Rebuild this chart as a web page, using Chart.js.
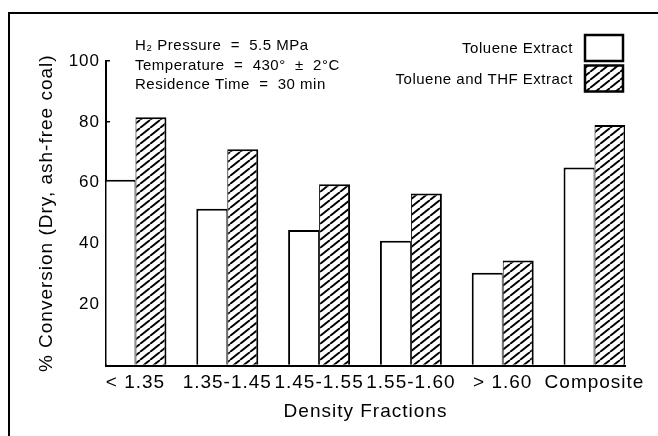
<!DOCTYPE html>
<html>
<head>
<meta charset="utf-8">
<script src="https://cdn.jsdelivr.net/npm/chart.js@4.4.1/dist/chart.umd.min.js"></script>
<style>
  body { margin: 0; background: #fff; }
  canvas { display: block; }
</style>
</head>
<body>
<canvas id="conversion-chart" width="658" height="436"></canvas>
<script>
const fractions = ['< 1.35', '1.35-1.45', '1.45-1.55', '1.55-1.60', '> 1.60', 'Composite'];
const tolueneExtract = [61, 51.5, 44.5, 41, 30.5, 65];
const tolueneThfExtract = [81.5, 71, 59.5, 56.5, 34.5, 79];
const yTicks = [0, 20, 40, 60, 80, 100];
const conditions = ['H\u2082 Pressure  =  5.5 MPa', 'Temperature  =  430\u00B0  \u00B1  2\u00B0C', 'Residence Time  =  30 min'];

const FONT = "'Liberation Sans', Arial, Helvetica, sans-serif";
const INK = '#000';

// diagonal hatch used for the THF bars
function makeHatch() {
    const tile = document.createElement('canvas');
    tile.width = 10;
    tile.height = 8;
    const c = tile.getContext('2d');
    c.fillStyle = '#fff';
    c.fillRect(0, 0, 10, 8);
    c.strokeStyle = INK;
    c.lineWidth = 1.9;
    c.beginPath();
    for (const dx of [-10, 0, 10]) {
        c.moveTo(dx, 8);
        c.lineTo(dx + 10, 0);
    }
    c.stroke();
    return c.createPattern(tile, 'repeat');
}
const hatch = makeHatch();

function spacing(chart) {
    chart.ctx.letterSpacing = '1px';
}

// frame, test conditions and the legend (box on the right of the text)
const extras = {
    id: 'extras',
    beforeUpdate: spacing,
    beforeLayout: spacing,
    beforeDraw: spacing,
    afterDraw(chart) {
        const ctx = chart.ctx;
        ctx.save();
        ctx.strokeStyle = INK;
        ctx.lineWidth = 2;
        ctx.beginPath();
        ctx.moveTo(9, 436);
        ctx.lineTo(9, 13);
        ctx.lineTo(658, 13);
        ctx.stroke();

        ctx.font = '15px ' + FONT;
        ctx.letterSpacing = '0.5px';
        ctx.fillStyle = INK;
        ctx.textBaseline = 'middle';
        ctx.textAlign = 'left';
        conditions.forEach((t, i) => ctx.fillText(t, 135, 46 + i * 19.5));

        ctx.textAlign = 'right';
        chart.data.datasets.forEach((ds, i) => {
            const y = 35 + i * 30.5;
            ctx.fillStyle = INK;
            ctx.fillText(ds.label, 573, y + 14);
            ctx.fillStyle = ds.backgroundColor;
            ctx.fillRect(585, y, 38, 26);
            ctx.lineWidth = 2.5;
            ctx.strokeRect(585, y, 38, 26);
        });
        ctx.restore();
    }
};

new Chart(document.getElementById('conversion-chart'), {
    type: 'bar',
    data: {
        datasets: [
            {
                label: 'Toluene Extract',
                data: tolueneExtract.map((v, i) => ({x: i, y: v})),
                backgroundColor: '#fff',
                borderColor: INK,
                borderWidth: {top: 2, left: 2, right: 1, bottom: 0},
                categoryPercentage: 0.675,
                barPercentage: 1
            },
            {
                label: 'Toluene and THF Extract',
                data: tolueneThfExtract.map((v, i) => ({x: i, y: v})),
                backgroundColor: hatch,
                borderColor: INK,
                borderWidth: {top: 2, left: 1, right: 2, bottom: 0},
                categoryPercentage: 0.675,
                barPercentage: 1
            }
        ]
    },
    options: {
        responsive: false,
        animation: false,
        layout: { padding: {top: 61, right: 33, bottom: 0, left: 0} },
        plugins: { legend: { display: false }, tooltip: { enabled: false } },
        scales: {
            x: {
                type: 'linear', min: -0.321, max: 5.332, offset: false,
                grid: { display: false, offset: false },
                border: { color: INK, width: 2 },
                afterBuildTicks: (s) => { s.ticks = fractions.map((f, i) => ({value: i})); },
                afterFit: (s) => { s.height = 70.5; },
                ticks: {
                    callback: (v) => fractions[v],
                    color: INK, font: { family: FONT, size: 19 },
                    padding: -2, maxRotation: 0, autoSkip: false
                },
                title: {
                    display: true, text: 'Density Fractions', color: INK,
                    font: { family: FONT, size: 19 }, padding: {top: 0, bottom: 13}
                }
            },
            y: {
                min: 0, max: 100,
                afterBuildTicks: (s) => { s.ticks = yTicks.map((v) => ({value: v})); },
                afterFit: (s) => { s.width = 106; },
                grid: { drawOnChartArea: false, tickLength: -4, color: INK, lineWidth: 1.5 },
                border: { color: INK, width: 2 },
                ticks: {
                    callback: (v) => v === 0 ? '' : v,
                    padding: 10, color: INK, font: { family: FONT, size: 17 }
                },
                title: {
                    display: true, text: '% Conversion (Dry, ash-free coal)', color: INK,
                    font: { family: FONT, size: 19 }, padding: {top: 35, bottom: 0}
                }
            }
        }
    },
    plugins: [extras]
});
</script>
</body>
</html>
